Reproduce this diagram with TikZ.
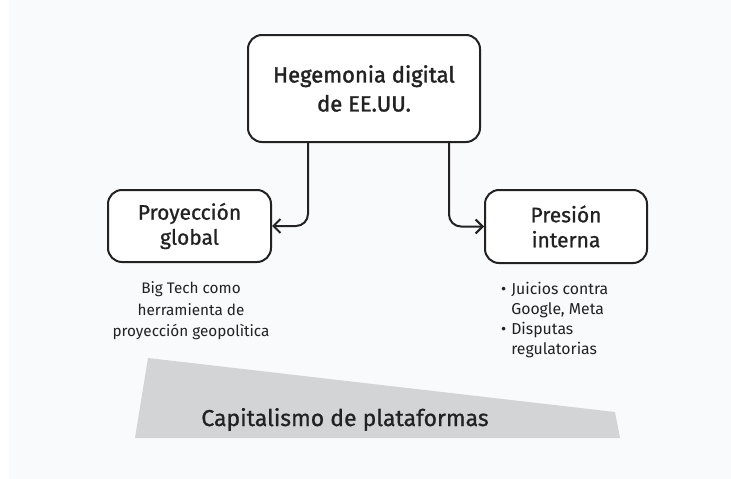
\documentclass[tikz,border=0pt]{standalone}
\usepackage{fontspec}
\setmainfont{Fira Sans}
\newfontfamily\semifont[FakeBold=1.6]{Fira Sans}
\newfontfamily\medfont[FakeBold=0.9]{Fira Sans}
\usetikzlibrary{arrows.meta}
\definecolor{bg}{HTML}{F9FAFB}
\definecolor{ink}{HTML}{222222}
\definecolor{band}{HTML}{D3D4D6}
\tikzset{
  box/.style={draw=ink, line width=2pt, rounded corners=14pt, align=center, text=ink, inner sep=0pt, fill=white},
  conn/.style={draw=ink, line width=2pt, rounded corners=12pt, -{Straight Barb[length=7pt,width=14pt,line width=2pt]}},
  subtext/.style={text=ink, inner sep=0pt, font=\fontsize{15.3}{21.5}\selectfont},
}
\begin{document}
\begin{tikzpicture}[x=1pt,y=-1pt]
\useasboundingbox (0,0) rectangle (731,479);
\fill[white] (0,0) rectangle (731,479);
\fill[bg] (9,0) rectangle (731,479);

\node[box, minimum width=232pt, minimum height=107pt, font=\semifont\fontsize{22}{29}\selectfont] (top) at (364,88.5) {Hegemonia digital\\de EE.UU.};
\node[box, minimum width=163pt, minimum height=72pt, font=\medfont\fontsize{21}{25}\selectfont] (L) at (189.5,226) {Proyección\\global};
\node[box, minimum width=162pt, minimum height=73pt, font=\medfont\fontsize{21}{25}\selectfont] (R) at (566,226.5) {Presión\\interna};

\coordinate (lx) at (308,0);
\coordinate (rx) at (449,0);
\draw[conn] (top.south -| lx) |- (L.east);
\draw[conn] (top.south -| rx) |- (R.west);

\node[subtext, align=center] (Lsub) at (191,311) {Big Tech como\\herramienta de\\proyección geopolìtica};
\node[subtext, anchor=north west] (Rsub) at (501,280) {\fontsize{15.8}{20.2}\selectfont\begin{tabular}{@{}l@{\hspace{5pt}}l@{}}•&Juicios contra\\&Google, Meta\\•&Disputas\\&regulatorias\end{tabular}};

\fill[band] (148,358) -- (615,412) -- (620,438) -- (135,438) -- cycle;
\node[text=ink, inner sep=0pt, anchor=base, font=\medfont\fontsize{23}{27}\selectfont] (cap) at (345,426) {Capitalismo de plataformas};
\end{tikzpicture}
\end{document}
